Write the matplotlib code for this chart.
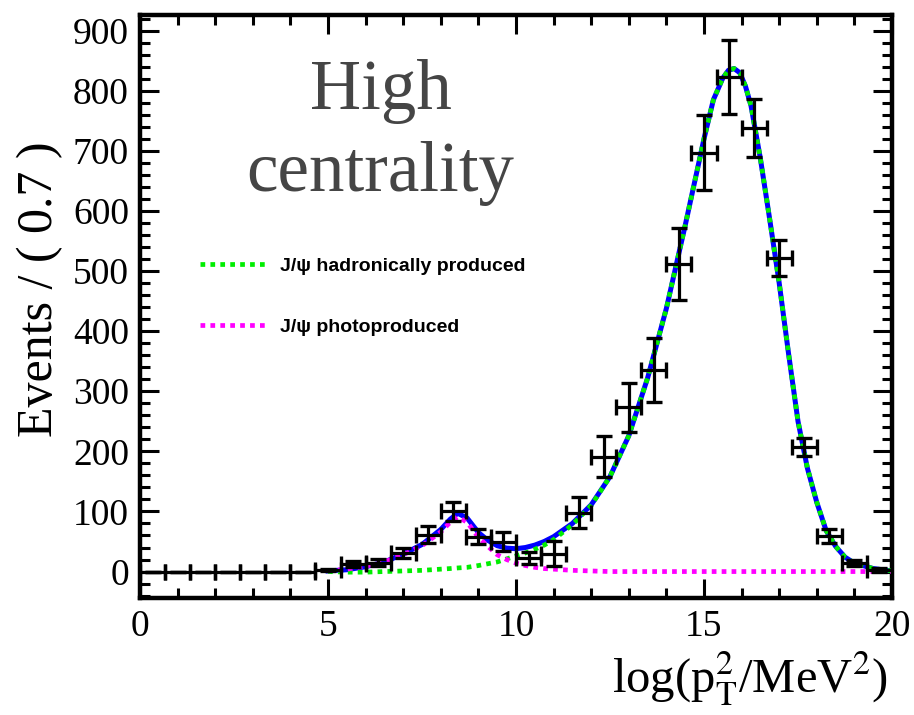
import numpy as np
import matplotlib
matplotlib.use('Agg')
from matplotlib import pyplot as plt
from matplotlib.ticker import MultipleLocator

plt.rcParams['font.family'] = ['Liberation Serif', 'DejaVu Serif']
plt.rcParams['mathtext.fontset'] = 'stix'

# binned data: 30 bins over 0..20
bin_edges = np.linspace(0, 20, 31)
counts = [0, 0, 0, 0, 0, 0, 0, 3, 12, 15, 31, 61, 100, 58, 50,
          23, 30, 98, 191, 273, 335, 511, 697, 823, 738, 522, 207, 59, 15, 3]
errors = [0, 0, 0, 0, 0, 0, 0, 2, 5, 6, 8, 14, 16, 12, 16,
          10, 21, 26, 34, 41, 53, 60, 62, 61, 48, 30, 15, 11, 5, 3]

# fit curves
curve_x = [5.0, 5.5, 6.0, 6.5, 7.0, 7.5, 8.0, 8.25, 8.45, 8.7, 9.0, 9.25, 9.5,
           9.75, 10.0, 10.25, 10.5, 10.75, 11.0, 11.5, 12.0, 12.5, 13.0, 13.5,
           14.0, 14.5, 15.0, 15.25, 15.5, 15.65, 15.8, 15.95, 16.1, 16.25, 16.5,
           16.75, 17.0, 17.25, 17.5, 17.75, 18.0, 18.25, 18.5, 18.75, 19.0,
           19.5, 20.0]
total_fit = [1, 3, 8, 16, 29, 45, 70, 87, 97, 89, 65, 52, 43,
             39, 38, 40, 44, 50, 58, 80, 111, 158, 226, 322,
             438, 576, 720, 785, 821, 834, 837, 830, 808, 775, 687,
             585, 480, 362, 250, 172, 115, 68, 42, 24, 14, 5, 1]
hadronic = [0, -1, -1, 0, 1, 2, 4, 5, 6, 7, 10, 13, 16,
            21, 26, 31, 37, 44, 53, 78, 110, 158, 226, 322,
            438, 576, 720, 785, 821, 834, 837, 830, 808, 775, 687,
            585, 480, 362, 250, 172, 115, 68, 42, 24, 14, 5, 1]
photo = [1, 4, 9, 16, 28, 43, 66, 82, 91, 82, 57, 42, 28,
         20, 14, 10, 7, 5, 4, 2, 1, 0, 0, 0,
         0, 0, 0, 0, 0, 0, 0, 0, 0, 0, 0,
         0, 0, 0, 0, 0, 0, 0, 0, 0, 0, 0, 0]

x_centers = 0.5 * (bin_edges[:-1] + bin_edges[1:])
x_err = 0.5 * np.diff(bin_edges)

fig = plt.figure(figsize=(9.14, 7.15), dpi=100)
ax = fig.add_axes([140 / 914, 117 / 715, 752 / 914, 583 / 715])

dash = (0, (1.0, 1.1))
ax.plot(curve_x, total_fit, color='#0000ff', lw=3.6, zorder=2)
ax.plot(curve_x, hadronic, color='#00ee00', lw=3.4, ls=dash, zorder=3,
        label='J/\u03c8 hadronically produced')
ax.plot(curve_x, photo, color='#ff00ff', lw=3.4, ls=dash, zorder=3,
        label='J/\u03c8 photoproduced')
ax.errorbar(x_centers, counts, yerr=errors, xerr=x_err, fmt='none',
            ecolor='black', elinewidth=2.3, capsize=6, capthick=2.4, zorder=4)

ax.set_xlim(0, 20)
ax.set_ylim(-44, 926)
ax.xaxis.set_major_locator(MultipleLocator(5))
ax.xaxis.set_minor_locator(MultipleLocator(1))
ax.yaxis.set_major_locator(MultipleLocator(100))
ax.yaxis.set_minor_locator(MultipleLocator(20))
ax.tick_params(which='both', direction='in', top=True, right=True,
               width=2.2, labelsize=27, pad=8)
ax.tick_params(which='major', length=14)
ax.tick_params(which='minor', length=7)
for sp in ax.spines.values():
    sp.set_linewidth(3.2)

ax.text(0.995, -0.163, r'log(p$_{\rm T}^{2}$/MeV$^{2}$)', transform=ax.transAxes,
        ha='right', va='baseline', fontsize=35)
ax.text(-0.133, 0.784, 'Events / ( 0.7 )', transform=ax.transAxes, rotation=90,
        ha='center', va='top', fontsize=36)

ax.text(0.32, 0.925, 'High\ncentrality', transform=ax.transAxes, ha='center',
        va='top', fontsize=51, color='#454545', linespacing=1.35)

ax.legend(loc='upper left', bbox_to_anchor=(0.08, 0.584), frameon=False,
          borderpad=0, borderaxespad=0, handlelength=3.35, handletextpad=0.77,
          labelspacing=2.2,
          prop={'family': ['Liberation Sans', 'DejaVu Sans'], 'weight': 'bold', 'size': 14})

fig.savefig('out.png', dpi=100)
